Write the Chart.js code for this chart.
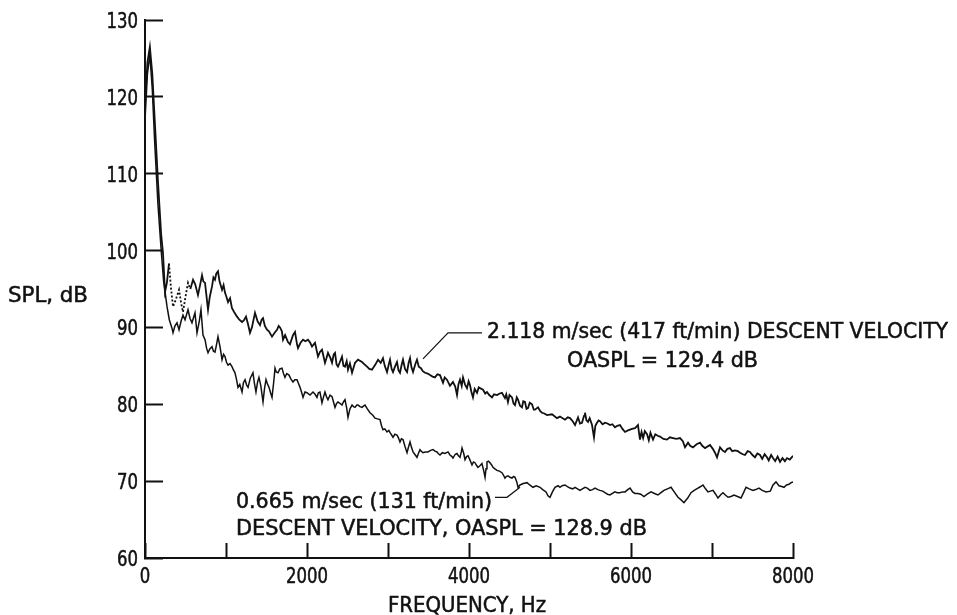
<!DOCTYPE html>
<html>
<head>
<meta charset="utf-8">
<script src="https://cdn.jsdelivr.net/npm/chart.js@4.4.0/dist/chart.umd.min.js"></script>
<style>
  html, body { margin: 0; padding: 0; background: #ffffff; }
</style>
</head>
<body>
<canvas id="graficoSpl" width="957" height="615"></canvas>
<script>
/* --- DADOS DO GRÁFICO --- */

// Curva superior: 2.118 m/sec (417 ft/min)
const freqSuperior = [0,30,60,90,120,160,200,222,247,270,296,320,346,380,420,445,469,500,531,560,593,620,654,680,704,720,741,760,778,800,827,845,864,880,901,920,951,970,988,1005,1025,1050,1074,1100,1136,1165,1198,1220,1247,1270,1296,1320,1358,1390,1420,1440,1457,1480,1506,1530,1568,1600,1630,1650,1667,1690,1704,1730,1765,1790,1827,1852,1877,1889,1920,1951,1980,2012,2040,2062,2099,2136,2160,2185,2222,2240,2259,2290,2309,2330,2346,2365,2383,2410,2432,2450,2469,2490,2506,2530,2556,2593,2630,2679,2710,2741,2770,2802,2840,2877,2910,2938,2960,2988,3010,3025,3045,3062,3090,3111,3130,3148,3170,3185,3210,3235,3255,3272,3290,3309,3340,3358,3380,3407,3430,3457,3490,3519,3550,3580,3610,3642,3679,3700,3728,3765,3802,3830,3852,3870,3889,3910,3926,3950,3975,3995,4012,4030,4049,4070,4099,4120,4136,4173,4200,4222,4250,4284,4310,4346,4380,4407,4444,4460,4481,4500,4531,4550,4568,4590,4605,4630,4654,4670,4691,4710,4728,4750,4778,4800,4815,4852,4880,4901,4930,4963,5025,5086,5123,5185,5220,5247,5280,5309,5346,5370,5395,5420,5432,5450,5469,5490,5519,5543,5560,5580,5600,5617,5650,5679,5710,5741,5770,5802,5830,5864,5895,5926,5963,6012,6050,6086,6100,6111,6130,6150,6170,6198,6220,6240,6272,6300,6330,6358,6400,6444,6480,6519,6560,6605,6640,6667,6704,6730,6765,6810,6852,6880,6914,6975,7010,7037,7062,7099,7130,7160,7190,7222,7250,7284,7320,7346,7380,7407,7440,7469,7500,7531,7560,7593,7620,7650,7679,7700,7730,7753,7780,7810,7840,7870,7900,7926,7960,8000];
const splSuperior = [119,124.5,126.5,123,117,109,102,99.7,94.6,95.8,98.3,95.2,92.7,93.6,94.9,93.2,92,94,95.8,95,96.2,95.6,94.2,95.5,96.8,96,95.8,94,92.3,94,95.3,96.5,96.2,97,97.3,96,94.9,95.5,94.5,94,93.3,93.8,92.5,92,91.4,91,90.7,90.9,91.4,90.5,89.3,90,91.9,90.8,90.3,91,91.2,90.2,89.7,89.5,88.8,89.3,89.7,90.2,90,89.5,88.4,89,88.1,87.8,89,89.4,87.8,87.3,88,88.4,88.2,88.4,88,87.5,88,86.2,86.8,87.1,85.4,86,86.7,86,85.4,86.5,86.7,85.2,84.9,85.6,86.2,85,84.9,85.6,84.5,85.3,84.1,85.4,85.8,85.5,85.2,84.9,84.6,84.5,85.1,85.8,85.4,86,85,84.2,85.2,85.8,84.6,84.2,85,85.5,84.4,84.1,85.2,85.8,84.6,84.2,85.4,86,84.8,84.2,85.3,85.8,84.9,84.7,84.3,84.1,84,83.8,83.6,83.5,83.9,83.8,82.8,83.5,83.2,82.4,82.9,82.3,81.2,82.6,83.2,82.4,83.5,82.6,82.1,83,82.5,81.6,80.9,82,81.5,82.2,82.1,81.9,81.4,81.6,81.2,80.9,81.3,81.2,81.4,81.5,80.8,81.3,80.3,81.2,80.9,80.1,79.9,80.9,80.6,79.8,79.6,80.4,80.3,79.4,79.5,80.2,80,79.3,79.3,79.6,79.1,78.9,78.8,78.6,78.7,78.2,78.4,78,78.3,78.2,77.8,77.3,78.3,77.5,77.6,78.5,78.9,77.9,77.7,78.2,77.3,75.7,77.2,77.6,77.9,77.8,77.4,77.6,77.5,77.3,77.4,77,77.2,77.3,76.8,76.4,76.6,76.8,76.9,77.3,76.2,75.4,76.4,75.6,76.5,76.1,75.3,76.3,75.4,76.1,75.9,75.8,75.5,75.4,75.7,75.6,75.5,75.6,75.2,74.4,75,74.6,74.4,74.8,75,74.6,74.3,74.7,74.2,73.7,73.1,74.4,74,73.8,74.2,74.3,73.9,74,73.9,73.7,73.5,73.4,73.9,73.8,73.4,73.1,73.6,73.4,72.9,73.5,73.1,72.7,73.4,73,72.6,73.2,72.5,73,72.6,73,72.8,73.3];

// Curva inferior: 0.665 m/sec (131 ft/min)
const freqInferior = [0,30,60,90,120,160,200,230,272,300,333,346,370,395,420,445,469,494,531,555,580,617,642,670,691,716,741,760,778,800,827,845,864,880,901,926,951,970,988,1005,1025,1050,1074,1090,1111,1130,1148,1170,1198,1215,1235,1255,1272,1300,1333,1350,1370,1390,1407,1430,1457,1475,1494,1510,1531,1550,1568,1590,1605,1620,1642,1665,1691,1710,1728,1750,1778,1800,1827,1850,1877,1895,1914,1935,1951,1975,2000,2037,2074,2100,2123,2140,2160,2185,2205,2222,2240,2259,2285,2309,2330,2346,2365,2383,2410,2432,2450,2469,2490,2506,2530,2556,2575,2593,2615,2630,2655,2679,2700,2716,2745,2778,2810,2840,2870,2901,2920,2938,2960,2988,3010,3025,3045,3062,3085,3111,3130,3148,3165,3185,3210,3235,3255,3272,3290,3309,3330,3358,3375,3395,3410,3432,3460,3494,3525,3556,3580,3605,3620,3642,3670,3704,3741,3765,3790,3802,3830,3852,3870,3889,3905,3914,3935,3951,3970,3988,4010,4037,4055,4074,4090,4111,4135,4160,4185,4198,4210,4222,4240,4259,4280,4296,4320,4346,4375,4407,4425,4444,4460,4481,4505,4531,4550,4568,4590,4605,4630,4670,4716,4750,4790,4830,4877,4910,4951,4975,5000,5030,5062,5100,5123,5150,5185,5215,5247,5280,5309,5340,5370,5400,5432,5460,5494,5525,5556,5590,5617,5650,5679,5710,5741,5770,5802,5830,5864,5895,5926,5960,5988,6020,6049,6086,6120,6160,6200,6247,6290,6333,6370,6407,6450,6494,6540,6580,6615,6654,6700,6741,6780,6827,6860,6889,6920,6951,6980,7012,7045,7074,7105,7136,7165,7198,7235,7272,7315,7358,7390,7420,7460,7506,7540,7580,7620,7667,7720,7753,7790,7827,7860,7889,7920,7951,7975,8000];
const splInferior = [117,123,125.5,121,114,106,100,96,92.7,91,89.9,89.3,90.2,90.6,89.7,90.8,91.6,91,92.3,91.2,90.6,91.9,89.3,90.8,92.3,89,88.4,87.3,86.7,87.2,87.5,86.9,86.8,87.6,88.8,87.5,85.8,86.5,86.2,85.5,85.1,85.3,84.9,84.5,84.1,83.2,82.2,82.6,81.6,82.8,83.2,82.5,82.2,83.4,84.1,82.8,81.6,82.9,83.5,82.4,80.3,82,83.2,82.7,82.2,81.5,80.9,83,84.7,84.2,84.1,84.6,84.7,84,83.5,84,83.8,83.3,82.9,83.2,83.2,82.7,82.2,81.5,80.9,81.6,81.5,81.2,81.6,81.3,80.9,81.5,81.6,80.2,81,81.6,81,80.6,81.2,81,80.2,79.6,80.1,80.3,80.1,79.9,80.3,80.6,79.5,78.3,79.4,79.9,79.7,79.6,79.9,79.9,79.7,79.6,79.8,79.9,79.4,78.9,78.6,78.2,78.1,78,77.2,76.7,76.8,76.4,76.6,76.3,76,75.7,76.1,76,75.6,75.1,75.5,75.4,74.5,73.7,74.5,75.1,74.4,73.8,73.5,73.1,73.6,74.1,73.9,73.7,73.8,73.8,74,74.1,73.9,73.8,73.6,73.4,73.7,73.6,73.8,73.4,73.2,73,73.5,73.6,73.3,73.1,73.8,74.3,73.6,72.8,73.2,73.3,72.8,72.1,72.5,72.4,72.1,71.8,72,72.3,71.2,70.5,71.6,72.5,72.6,72.4,72.1,71.8,71.6,71.4,71.3,71.1,70.8,70.4,70.6,70.7,70.5,70.4,70.6,70.5,69.9,69.2,69.5,69.7,69.8,69.5,69.2,69.4,69.2,68.9,68.6,68.1,67.9,68.6,69.2,69.4,69.2,69.4,69.5,69.3,69.1,69,69.2,69,68.8,69,69.2,69.1,68.8,68.9,69.1,68.9,68.8,68.7,68.5,68.3,68.2,68.4,68.6,68.5,68.5,68.6,68.6,68.9,69.1,68.6,68.4,68.4,68.3,68,68.3,68.6,68.4,68.2,68.5,68.8,69,69.2,68.5,67.9,67.6,67.2,67.8,68.5,68.8,69.1,69.3,69.5,69,68.6,68.7,68.8,68.3,67.8,68.2,68.5,68.2,67.9,68,68.2,68,67.8,68.5,69.2,69,68.8,68.9,69.1,68.8,68.6,68.7,69.5,69.9,69.4,69.3,69.2,69.5,69.6,69.8,69.9];

// Rótulos dos eixos
const ticksFrequencia = [0, 2000, 4000, 6000, 8000];
const tituloX = 'FREQUENCY, Hz';
const tituloY = 'SPL, dB';
const legendaSuperior = ['2.118 m/sec (417 ft/min) DESCENT VELOCITY', 'OASPL = 129.4 dB'];
const legendaInferior = ['0.665 m/sec (131 ft/min)', 'DESCENT VELOCITY, OASPL = 128.9 dB'];

/* --- CONFIGURAÇÃO --- */
const FONTE = "'DejaVu Sans Condensed', 'DejaVu Sans', sans-serif";
const PRETO = '#111111';

function montarPontos(freqs, valores) {
    return freqs.map((f, i) => ({ x: f, y: valores[i] }));
}

// Escreve um texto esticado/comprimido para ocupar uma largura fixa
// (alinhamento: 0 = esquerda, 0.5 = centro, 1 = direita)
function textoLargura(ctx, texto, x, y, largura, alinhamento = 0) {
    const medida = ctx.measureText(texto).width;
    ctx.save();
    ctx.translate(x - largura * alinhamento, y);
    ctx.scale(largura / medida, 1);
    ctx.fillText(texto, 0, 0);
    ctx.strokeText(texto, 0, 0); // traço leve para imitar as letras do original
    ctx.restore();
}

// Plugin: rótulos dos ticks, títulos dos eixos e anotações com linhas de chamada
const anotacoes = {
    id: 'anotacoes',
    afterDraw(chart) {
        const ctx = chart.ctx;
        const sx = chart.scales.x;
        const sy = chart.scales.y;
        const px = v => sx.getPixelForValue(v);
        const py = v => sy.getPixelForValue(v);

        ctx.save();
        ctx.fillStyle = PRETO;
        ctx.strokeStyle = PRETO;
        ctx.lineWidth = 0.5;
        ctx.font = '22px ' + FONTE;
        ctx.textAlign = 'left';
        ctx.textBaseline = 'alphabetic';

        // rótulos dos ticks (valores vindos da própria escala)
        sx.ticks.forEach(t => {
            if (!ticksFrequencia.includes(t.value)) return;
            const txt = String(t.value);
            textoLargura(ctx, txt, px(t.value), 583, txt.length * 10.5, 0.5);
        });
        sy.ticks.forEach(t => {
            const txt = String(t.value);
            textoLargura(ctx, txt, 138, py(t.value) + 8, txt.length * 10.5, 1);
        });

        // títulos
        textoLargura(ctx, tituloY, 8, 302, 80);
        textoLargura(ctx, tituloX, 388, 612, 158);

        // anotação da curva superior
        textoLargura(ctx, legendaSuperior[0], 487, 338, 461);
        textoLargura(ctx, legendaSuperior[1], 567, 367, 191);
        // anotação da curva inferior
        textoLargura(ctx, legendaInferior[0], 236, 508, 256);
        textoLargura(ctx, legendaInferior[1], 236, 535, 411);

        // linhas de chamada
        ctx.lineWidth = 1.2;
        ctx.beginPath();
        ctx.moveTo(px(3432), py(85.9));
        ctx.lineTo(px(3741), py(89.3));
        ctx.lineTo(px(4160), py(89.3));
        ctx.stroke();

        ctx.beginPath();
        ctx.moveTo(px(4321), py(67.9));
        ctx.lineTo(px(4469), py(67.9));
        ctx.lineTo(px(4630), py(69.2));
        ctx.stroke();
        ctx.restore();
    }
};

const contexto = document.getElementById('graficoSpl').getContext('2d');
const grafico = new Chart(contexto, {
    type: 'line',
    data: {
        datasets: [
            {
                label: legendaSuperior[0],
                data: montarPontos(freqSuperior, splSuperior),
                borderColor: PRETO,
                borderWidth: 1.8,
                pointRadius: 0,
                tension: 0,
                // trecho pontilhado no início do registro
                segment: {
                    borderDash: c => (c.p0.parsed.x >= 296 && c.p1.parsed.x <= 560) ? [2, 2] : undefined
                }
            },
            {
                label: legendaInferior[0],
                data: montarPontos(freqInferior, splInferior),
                borderColor: PRETO,
                borderWidth: 1.5,
                pointRadius: 0,
                tension: 0
            }
        ]
    },
    options: {
        responsive: false,
        animation: false,
        layout: { padding: { top: 20, right: 164, bottom: 0, left: 0 } },
        plugins: {
            legend: { display: false },
            tooltip: { enabled: false }
        },
        scales: {
            x: {
                type: 'linear',
                min: 0,
                max: 8000,
                ticks: { stepSize: 1000, autoSkip: false, maxRotation: 0, display: false },
                grid: { drawOnChartArea: false, tickLength: -15, tickWidth: 2, color: PRETO },
                border: { color: PRETO, width: 2 },
                afterFit: escala => { escala.height = 57; }
            },
            y: {
                min: 60,
                max: 130,
                ticks: { stepSize: 10, display: false },
                grid: { drawOnChartArea: false, tickLength: -18, tickWidth: 2, color: PRETO },
                border: { color: PRETO, width: 2 },
                afterFit: escala => { escala.width = 145; }
            }
        }
    },
    plugins: [anotacoes]
});
</script>
</body>
</html>
